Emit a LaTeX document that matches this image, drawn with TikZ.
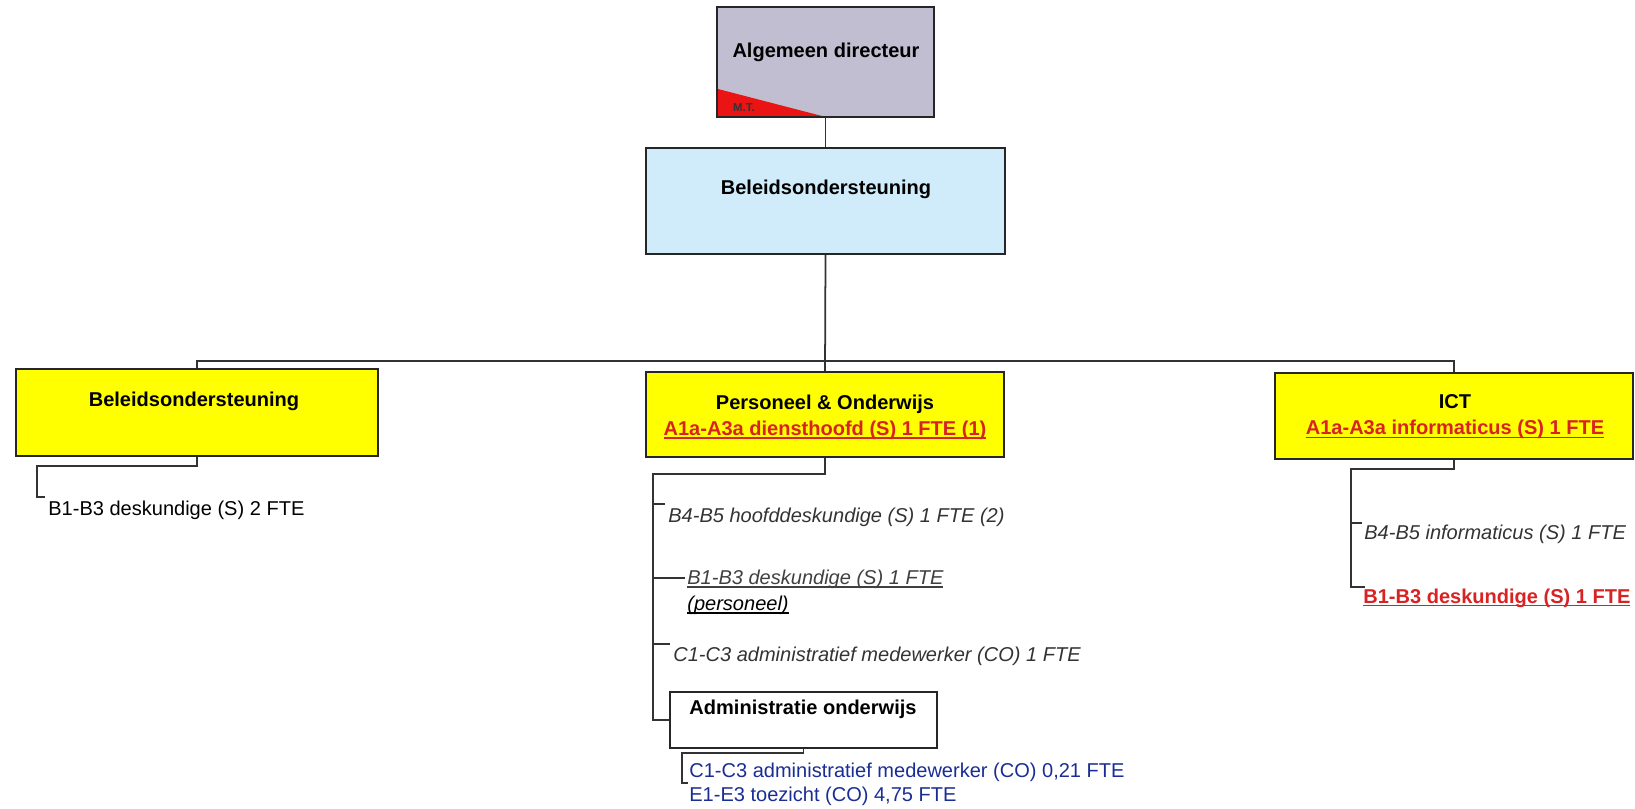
\documentclass[tikz,border=0pt]{standalone}
\usepackage{fontspec}
\setmainfont{Liberation Sans}
\usetikzlibrary{positioning}

\definecolor{dirgrey}{RGB}{192,190,208}
\definecolor{stafblue}{RGB}{208,236,250}
\definecolor{dienstyellow}{RGB}{255,255,0}
\definecolor{mtred}{RGB}{235,20,20}
\definecolor{fteRed}{RGB}{215,35,35}
\definecolor{fteBlue}{RGB}{25,45,150}

\newcommand{\orgfont}{\fontsize{11.4}{14.8}\selectfont}
% underline close to the baseline
\newsavebox{\ulbox}
\newcommand{\uln}[1]{\sbox{\ulbox}{#1}\rlap{\rule[-1.9pt]{\wd\ulbox}{0.7pt}}\usebox{\ulbox}}

\tikzset{
  box/.style={draw=black!85, line width=1.2pt, inner sep=0pt},
  boxtext/.style={align=center, inner sep=0pt, font=\orgfont\bfseries},
  conn/.style={draw=black!80, line width=1pt},
  item/.style={anchor=west, inner sep=0pt, align=left, font=\orgfont},
  itemit/.style={item, font=\orgfont\itshape, text=black!80},
}

\begin{document}
\begin{tikzpicture}[x=0.02cm, y=-0.02cm]
\useasboundingbox (0,0) rectangle (1635,808);

% top of the chart
\node[box, draw=none, fill=dirgrey, minimum width=4.3cm, minimum height=2.16cm] (dir) at (825.5,62) {};
\fill[mtred] (718,89) -- (718,116) -- (822,116) -- cycle;
\draw[line width=1.2pt, black!85] (dir.south west) rectangle (dir.north east);
\node[boxtext] (dirtxt) at (826,52) {Algemeen directeur};
\node[inner sep=0pt, font=\fontsize{6.5}{7}\selectfont\bfseries, text=black!80] (mt) at (744,108) {M.T.};

\node[box, fill=stafblue, minimum width=7.18cm, minimum height=2.12cm] (beleid) at (825.5,201) {};
\node[boxtext] (beleidtxt) at (826,189) {Beleidsondersteuning};

% the three services
\node[box, fill=dienstyellow, minimum width=7.24cm, minimum height=1.74cm] (links) at (197,412.5) {};
\node[boxtext] (linkstxt) at (194,401) {Beleidsondersteuning};

\node[box, fill=dienstyellow, minimum width=7.16cm, minimum height=1.7cm] (po) at (825,414.5) {};
\node[boxtext] (potxt) at (825,417)
  {Personeel \& Onderwijs\\ \textcolor{fteRed}{\uln{A1a-A3a diensthoofd (S) 1 FTE (1)}}};

\node[box, fill=dienstyellow, minimum width=7.16cm, minimum height=1.72cm] (ict) at (1454,416) {};
\node[boxtext] (icttxt) at (1455,417)
  {ICT\\ \textcolor{fteRed}{\uln{A1a-A3a informaticus (S) 1 FTE}}};

\node[box, fill=white, minimum width=5.34cm, minimum height=1.12cm] (adm) at (803.5,720) {};
\node[boxtext] (admtxt) at (803,709) {Administratie onderwijs};

% functions under each service
\node[item] (lb1) at (48,510) {B1-B3 deskundige (S) 2 FTE};

\node[itemit] (pb1) at (668,517) {B4-B5 hoofddeskundige (S) 1 FTE (2)};
\node[itemit, text=black!75] (pb2) at (687,592) {\uln{B1-B3 deskundige (S) 1 FTE}\\ \textcolor{black}{\uln{(personeel)}}};
\node[itemit] (pb3) at (673,656) {C1-C3 administratief medewerker (CO) 1 FTE};

\node[item, text=fteBlue, font=\fontsize{11.4}{13.7}\selectfont] (ab) at (689,784)
  {C1-C3 administratief medewerker (CO) 0,21 FTE\\ E1-E3 toezicht (CO) 4,75 FTE};

\node[itemit] (ib1) at (1364,534) {B4-B5 informaticus (S) 1 FTE};
\node[item, text=fteRed, font=\orgfont\bfseries] (ib2) at (1363,598) {\uln{B1-B3 deskundige (S) 1 FTE}};

% connectors
\coordinate (bus) at (826,361);
\draw[conn] (dir.south) -- (beleid.north);
\draw[conn] (beleid.south) -- (po.north);
\draw[conn] (links.north) |- (bus) -| (ict.north);

\coordinate (lk) at (37,466);
\coordinate (lt) at (45,497);
\draw[conn] (links.south) |- (lk) |- (lt);

\coordinate (pk) at (653,474);
\coordinate (pt1) at (665,504);
\coordinate (pt2) at (685,578);
\coordinate (pt3) at (670,644);
\draw[conn] (po.south) |- (pk) |- (adm.west);
\draw[conn] (pk |- pt1) -- (pt1);
\draw[conn] (pk |- pt2) -- (pt2);
\draw[conn] (pk |- pt3) -- (pt3);

\coordinate (ak) at (682,753);
\coordinate (at) at (688,783);
\draw[conn] (adm.south) |- (ak) |- (at);

\coordinate (ik) at (1351,469);
\coordinate (it1) at (1362,523);
\coordinate (it2) at (1365,587);
\draw[conn] (ict.south) |- (ik) |- (it2);
\draw[conn] (ik |- it1) -- (it1);

\end{tikzpicture}
\end{document}
